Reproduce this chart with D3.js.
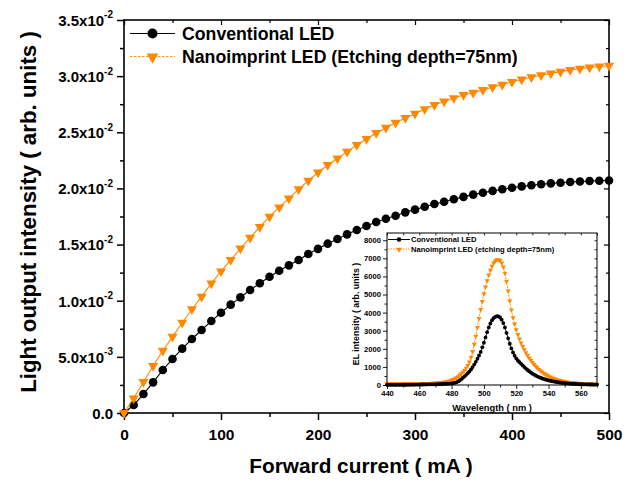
<!DOCTYPE html>
<html><head><meta charset="utf-8">
<script src="https://cdn.jsdelivr.net/npm/d3@7"></script>
<style>
body{margin:0;background:#fff}
svg{display:block}
text{font-family:"Liberation Sans",Arial,Helvetica,sans-serif;font-weight:bold;fill:#000}
</style>
</head><body>
<svg id="c" width="636" height="481"></svg>
<script>
// ---------------- main chart data ----------------
const current = [0,10,20,30,40,50,60,70,80,90,100,110,120,130,140,150,160,170,180,190,200,
  210,220,230,240,250,260,270,280,290,300,310,320,330,340,350,360,370,380,390,400,
  410,420,430,440,450,460,470,480,490,500];
const conventional = [0,0.00071,0.00169,0.00273,0.00383,0.00481,0.00573,0.00659,0.00739,0.00819,0.00893,
  0.00965,0.0103,0.01095,0.01155,0.01214,0.01267,0.01315,0.01363,0.01416,0.01462,
  0.01508,0.0155,0.01591,0.0163,0.01665,0.01701,0.0173,0.01757,0.01787,0.01811,
  0.01837,0.01861,0.01881,0.01903,0.01925,0.01945,0.01962,0.01978,0.01993,0.02006,
  0.02018,0.02028,0.02037,0.02045,0.02051,0.02057,0.02062,0.02066,0.02068,0.0207];
const nanoimprint = [0,0.00131,0.00276,0.00419,0.00555,0.0068,0.00804,0.00924,0.01036,0.01155,0.01262,
  0.01363,0.01465,0.01562,0.01657,0.01748,0.01832,0.01912,0.01993,0.0207,0.02142,
  0.02209,0.02268,0.02328,0.02387,0.0244,0.02494,0.02541,0.02585,0.02627,0.02666,
  0.02707,0.02743,0.02774,0.02805,0.02832,0.02852,0.02877,0.02901,0.02925,0.02948,
  0.0297,0.0299,0.03008,0.03025,0.0304,0.03055,0.03067,0.03078,0.03086,0.03093];
const seriesNames = ["Conventional LED","Nanoimprint LED (Etching depth=75nm)"];
const xTicks = [0,100,200,300,400,500];
const xMinor = [50,150,250,350,450];
const yTicks = [0,0.005,0.01,0.015,0.02,0.025,0.03,0.035];
const yMinor = [0.0025,0.0075,0.0125,0.0175,0.0225,0.0275,0.0325];
const yTickBase = ["0.0","5.0x10","1.0x10","1.5x10","2.0x10","2.5x10","3.0x10","3.5x10"];
const yTickExp  = ["","-3","-2","-2","-2","-2","-2","-2"];
const xTitle = "Forward current ( mA )";
const yTitle = "Light output intensity ( arb. units )";

// ---------------- inset data ----------------
const wavelength = [440,441,442,443,444,445,446,447,448,449,450,451,452,453,454,455,456,457,458,459,
  460,461,462,463,464,465,466,467,468,469,470,471,472,473,474,475,476,477,478,479,
  480,481,482,483,484,485,486,487,488,489,490,491,492,493,494,495,496,497,498,499,
  500,501,502,503,504,505,506,507,508,509,510,511,512,513,514,515,516,517,518,519,
  520,521,522,523,524,525,526,527,528,529,530,531,532,533,534,535,536,537,538,539,
  540,541,542,543,544,545,546,547,548,549,550,551,552,553,554,555,556,557,558,559,
  560,561,562,563,564,565,566,567,568,569,570];
const elConventional = [8,8,9,9,10,10,11,11,12,12,13,14,15,16,17,18,19,20,22,23,
  25,27,29,31,33,35,36,37,38,39,40,43,46,50,54,58,63,68,74,80,
  88,100,118,150,195,250,320,400,480,560,650,750,860,990,1130,1280,1450,1630,1830,2080,
  2340,2630,2920,3180,3400,3580,3700,3770,3800,3790,3730,3610,3420,3180,2880,2580,2280,2020,1800,1620,
  1470,1360,1260,1170,1080,990,910,830,760,690,630,575,525,480,440,400,365,335,305,280,
  255,235,215,197,180,165,150,137,125,114,104,95,87,80,73,67,61,56,52,48,
  44,41,38,35,33,31,29,27,26,25,25];
const elNanoimprint = [60,65,70,72,75,75,76,78,80,80,78,75,72,70,70,72,75,75,72,70,
  70,72,75,78,80,82,85,90,95,100,105,112,120,130,142,156,172,190,210,235,
  265,300,345,400,465,540,620,710,810,930,1080,1270,1530,1850,2250,2700,3180,3680,4170,4620,
  5040,5420,5770,6080,6350,6570,6740,6860,6920,6930,6880,6750,6520,6180,5730,5200,4650,4150,3720,3370,
  3060,2790,2550,2330,2130,1950,1790,1640,1500,1370,1250,1140,1040,950,865,790,720,655,595,540,
  490,445,405,368,335,305,278,253,230,210,192,175,160,147,135,124,114,105,97,90,
  84,78,73,68,64,60,57,54,51,48,46];
const insetNames = ["Conventional LED","Nanoimprint LED (etching depth=75nm)"];
const wlTicks = [440,460,480,500,520,540,560];
const wlMinor = [450,470,490,510,530,550,570];
const elTicks = [0,1000,2000,3000,4000,5000,6000,7000,8000];
const elMinor = [500,1500,2500,3500,4500,5500,6500,7500];
const insetXTitle = "Wavelength ( nm )";
const insetYTitle = "EL intensity ( arb. units )";

const ORANGE = "#ff8800";
const svg = d3.select("#c");

// ---------------- main chart ----------------
const M = {l:124, r:609, t:20, b:413};
const x = d3.scaleLinear().domain([0,500]).range([M.l, M.r]);
const y = d3.scaleLinear().domain([0,0.035]).range([M.b, M.t]);

function styleAxis(g, sw){
  g.select(".domain").remove();
  g.selectAll(".tick line").attr("stroke","#000").attr("stroke-width", sw);
}
// bottom
svg.append("g").attr("transform",`translate(0,${M.b})`)
  .call(d3.axisBottom(x).tickValues(xTicks).tickSize(7).tickPadding(9).tickFormat(d=>String(d)))
  .call(g=>styleAxis(g,1.5))
  .call(g=>g.selectAll("text").attr("font-size",15.5).attr("font-family","Liberation Sans, Arial, sans-serif").attr("font-weight","bold"));
svg.append("g").attr("transform",`translate(0,${M.b})`)
  .call(d3.axisBottom(x).tickValues(xMinor).tickSize(4).tickFormat(""))
  .call(g=>styleAxis(g,1.5));
// top (inward)
svg.append("g").attr("transform",`translate(0,${M.t})`)
  .call(d3.axisTop(x).tickValues(xTicks).tickSize(-5).tickFormat(""))
  .call(g=>styleAxis(g,1.2));
svg.append("g").attr("transform",`translate(0,${M.t})`)
  .call(d3.axisTop(x).tickValues(xMinor).tickSize(-3).tickFormat(""))
  .call(g=>styleAxis(g,1.2));
// left
const yAx = svg.append("g").attr("transform",`translate(${M.l},0)`)
  .call(d3.axisLeft(y).tickValues(yTicks).tickSize(7).tickPadding(4).tickFormat(""))
  .call(g=>styleAxis(g,1.5));
yAx.selectAll(".tick").each(function(d,i){
  const t = d3.select(this).select("text")
    .attr("font-size",15).attr("font-family","Liberation Sans, Arial, sans-serif").attr("font-weight","bold")
    .attr("dy","0.36em");
  t.append("tspan").text(yTickBase[i]);
  if (yTickExp[i]) t.append("tspan").attr("font-size",10).attr("dy","-0.75em").text(yTickExp[i]);
});
svg.append("g").attr("transform",`translate(${M.l},0)`)
  .call(d3.axisLeft(y).tickValues(yMinor).tickSize(4).tickFormat(""))
  .call(g=>styleAxis(g,1.5));
// right (inward)
svg.append("g").attr("transform",`translate(${M.r},0)`)
  .call(d3.axisRight(y).tickValues(yTicks).tickSize(-5).tickFormat(""))
  .call(g=>styleAxis(g,1.2));
svg.append("g").attr("transform",`translate(${M.r},0)`)
  .call(d3.axisRight(y).tickValues(yMinor).tickSize(-3).tickFormat(""))
  .call(g=>styleAxis(g,1.2));
// frame
svg.append("rect").attr("x",M.l).attr("y",M.t).attr("width",M.r-M.l).attr("height",M.b-M.t)
  .attr("fill","none").attr("stroke","#000").attr("stroke-width",1.6);

// titles
svg.append("text").attr("x",361).attr("y",473).attr("text-anchor","middle")
  .attr("font-size",20.8).text(xTitle);
svg.append("text").attr("transform",`translate(36,212) rotate(-90)`).attr("text-anchor","middle")
  .attr("font-size",22.3).text(yTitle);

// lines + markers
const line = d3.line().x((d,i)=>x(current[i])).y(d=>y(d));
svg.append("path").datum(conventional).attr("d",line).attr("fill","none").attr("stroke","#000").attr("stroke-width",1.1);
svg.append("g").selectAll("circle").data(conventional).join("circle")
  .attr("cx",(d,i)=>x(current[i])).attr("cy",d=>y(d)).attr("r",4.3).attr("fill","#000");
svg.append("path").datum(nanoimprint).attr("d",line).attr("fill","none").attr("stroke",ORANGE).attr("stroke-width",1.1);
const tri = d3.symbol().type(d3.symbolTriangle).size(44);
svg.append("g").selectAll("path").data(nanoimprint).join("path")
  .attr("d",tri).attr("transform",(d,i)=>`translate(${x(current[i])},${y(d)}) rotate(180)`).attr("fill",ORANGE);

// legend main
const lg = svg.append("g");
lg.append("line").attr("x1",130).attr("x2",175).attr("y1",33.5).attr("y2",33.5).attr("stroke","#000").attr("stroke-width",1.2);
lg.append("circle").attr("cx",152.5).attr("cy",33.5).attr("r",5).attr("fill","#000");
lg.append("text").attr("x",182).attr("y",40).attr("font-size",17.7).text(seriesNames[0]);
lg.append("line").attr("x1",130).attr("x2",175).attr("y1",56.5).attr("y2",56.5).attr("stroke",ORANGE).attr("stroke-width",0.9).attr("stroke-dasharray","2.5,1.5");
lg.append("path").attr("d",d3.symbol().type(d3.symbolTriangle).size(60)).attr("transform","translate(152.5,57) rotate(180)").attr("fill",ORANGE);
lg.append("text").attr("x",182).attr("y",63).attr("font-size",17.7).text(seriesNames[1]);

// ---------------- inset ----------------
const I = {l:387, r:597, t:233, b:385};
const xi = d3.scaleLinear().domain([440,570]).range([I.l, I.r]);
const yi = d3.scaleLinear().domain([0,8400]).range([I.b, I.t]);
svg.append("rect").attr("x",I.l).attr("y",I.t).attr("width",I.r-I.l).attr("height",I.b-I.t).attr("fill","#fff");

const sf = g=>g.selectAll("text").attr("font-size",7.6).attr("font-family","Liberation Sans, Arial, sans-serif").attr("font-weight","bold");
svg.append("g").attr("transform",`translate(0,${I.b})`)
  .call(d3.axisBottom(xi).tickValues(wlTicks).tickSize(4).tickPadding(2).tickFormat(d=>String(d)))
  .call(g=>styleAxis(g,0.9)).call(sf);
svg.append("g").attr("transform",`translate(0,${I.b})`)
  .call(d3.axisBottom(xi).tickValues(wlMinor).tickSize(2.5).tickFormat(""))
  .call(g=>styleAxis(g,0.9));
svg.append("g").attr("transform",`translate(${I.l},0)`)
  .call(d3.axisLeft(yi).tickValues(elTicks).tickSize(4).tickPadding(2).tickFormat(d=>String(d)))
  .call(g=>styleAxis(g,0.9)).call(sf);
svg.append("g").attr("transform",`translate(${I.l},0)`)
  .call(d3.axisLeft(yi).tickValues(elMinor).tickSize(2.5).tickFormat(""))
  .call(g=>styleAxis(g,0.9));
svg.append("g").attr("transform",`translate(0,${I.t})`)
  .call(d3.axisTop(xi).tickValues(wlTicks.concat(wlMinor)).tickSize(-2.5).tickFormat(""))
  .call(g=>styleAxis(g,0.8));
svg.append("g").attr("transform",`translate(${I.r},0)`)
  .call(d3.axisRight(yi).tickValues(elTicks.concat(elMinor)).tickSize(-2.5).tickFormat(""))
  .call(g=>styleAxis(g,0.8));

const ilineB = d3.line().x((d,i)=>xi(wavelength[i])).y(d=>yi(d));
svg.append("path").datum(elConventional).attr("d",ilineB).attr("fill","none").attr("stroke","#000").attr("stroke-width",0.9);
svg.append("path").datum(elNanoimprint).attr("d",ilineB).attr("fill","none").attr("stroke",ORANGE).attr("stroke-width",0.9).attr("stroke-dasharray","2,1");
const itri = d3.symbol().type(d3.symbolTriangle).size(11);
svg.append("g").selectAll("path").data(elNanoimprint).join("path")
  .attr("d",itri).attr("transform",(d,i)=>`translate(${xi(wavelength[i])},${yi(d)}) rotate(180)`).attr("fill",ORANGE);
svg.append("g").selectAll("circle").data(elConventional).join("circle")
  .attr("cx",(d,i)=>xi(wavelength[i])).attr("cy",d=>yi(d)).attr("r",1.9).attr("fill","#000");

svg.append("rect").attr("x",I.l).attr("y",I.t).attr("width",I.r-I.l).attr("height",I.b-I.t)
  .attr("fill","none").attr("stroke","#000").attr("stroke-width",1);

// inset legend
svg.append("line").attr("x1",388).attr("x2",410).attr("y1",239.5).attr("y2",239.5).attr("stroke","#000").attr("stroke-width",1);
svg.append("circle").attr("cx",399).attr("cy",239.5).attr("r",2.3).attr("fill","#000");
svg.append("text").attr("x",411).attr("y",242.3).attr("font-size",7.6).text(insetNames[0]);
svg.append("line").attr("x1",388).attr("x2",410).attr("y1",249).attr("y2",249).attr("stroke",ORANGE).attr("stroke-width",0.9).attr("stroke-dasharray","1.5,1");
svg.append("path").attr("d",d3.symbol().type(d3.symbolTriangle).size(14)).attr("transform","translate(399,249.5) rotate(180)").attr("fill",ORANGE);
svg.append("text").attr("x",411).attr("y",252).attr("font-size",7.6).text(insetNames[1]);

svg.append("text").attr("x",(I.l+I.r)/2).attr("y",411).attr("text-anchor","middle").attr("font-size",9.3).text(insetXTitle);
svg.append("text").attr("transform",`translate(359,${(I.t+I.b)/2+5}) rotate(-90)`).attr("text-anchor","middle").attr("font-size",8.8).text(insetYTitle);
</script>
</body></html>
